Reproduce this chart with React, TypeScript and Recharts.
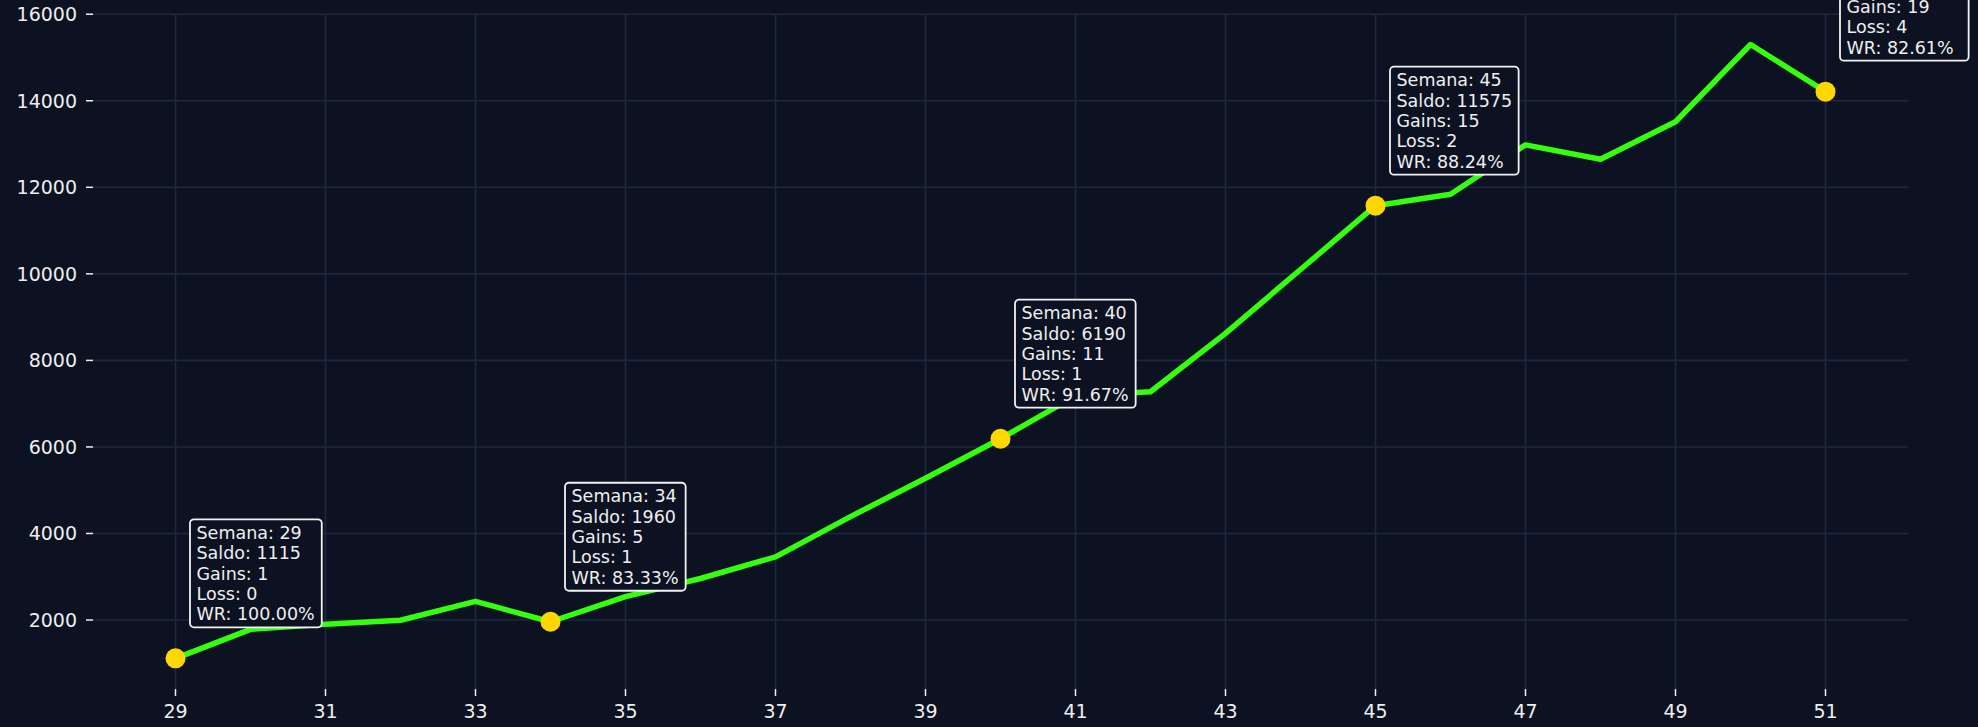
import React from "react";
import { LineChart, Line, XAxis, YAxis, ReferenceLine } from "recharts";

const weeks = [29, 30, 31, 32, 33, 34, 35, 36, 37, 38, 39, 40, 41, 42, 43, 44, 45, 46, 47, 48, 49, 50, 51];
const saldo = [
  1115, 1785, 1905, 1995, 2430, 1960, 2540, 2960, 3460, 4390, 5275, 6190,
  7180, 7275, 8625, 10100, 11575, 11840, 12980, 12650, 13515, 15300, 14210,
];

// annotated weeks with their trade counts
const markedWeeks = [29, 34, 40, 45, 51];
const gains = [1, 5, 11, 15, 19];
const losses = [0, 1, 1, 2, 4];

const xTicks = [29, 31, 33, 35, 37, 39, 41, 43, 45, 47, 49, 51];
const yTicks = [2000, 4000, 6000, 8000, 10000, 12000, 14000, 16000];

const BG = "#0c1222";
const GRID = "#1e283c";
const TEXT = "#eeeeee";
const FONT = "'DejaVu Sans', sans-serif";

const data = weeks.map((w, i) => ({ semana: w, saldo: saldo[i] }));

// rough DejaVu Sans advance widths (em) to size the annotation boxes
const CHAR_W: Record<string, number> = {
  S: 0.635, e: 0.615, m: 0.974, a: 0.613, n: 0.634, ":": 0.337, " ": 0.318,
  l: 0.278, d: 0.635, o: 0.612, G: 0.775, i: 0.278, s: 0.521, L: 0.557,
  W: 0.989, R: 0.695, ".": 0.318, "%": 0.95,
};
const textWidth = (t: string, fs: number) =>
  t.split("").reduce((acc, c) => acc + (CHAR_W[c] ?? 0.636), 0) * fs;

const ANN_FS = 17.5;
const ANN_LH = 20.4;

function AnnotatedDot(props: any) {
  const { cx, cy, payload, index } = props;
  const k = markedWeeks.indexOf(payload.semana);
  if (k < 0 || cx == null || cy == null) return <g key={`d-${index}`} />;
  const g = gains[k];
  const l = losses[k];
  const wr = ((g / (g + l)) * 100).toFixed(2);
  const lines = [
    `Semana: ${payload.semana}`,
    `Saldo: ${payload.saldo}`,
    `Gains: ${g}`,
    `Loss: ${l}`,
    `WR: ${wr}%`,
  ];
  const w = Math.max(...lines.map((t) => textWidth(t, ANN_FS))) + 13;
  const h = 108;
  const bx = cx + 14.5;
  const by = cy - 31 - h;
  return (
    <g key={`d-${index}`}>
      <circle cx={cx} cy={cy} r={10} fill="#ffd700" />
      <rect x={bx} y={by} width={w} height={h} rx={4} ry={4} fill={BG} stroke="#f2f2f2" strokeWidth={1.8} />
      {lines.map((t, j) => (
        <text
          key={j}
          x={bx + 6.5}
          y={by + 19.5 + j * ANN_LH}
          fill={TEXT}
          fontSize={ANN_FS}
          fontFamily={FONT}
        >
          {t}
        </text>
      ))}
    </g>
  );
}

export default function App() {
  return (
    <div style={{ width: 1978, height: 727, background: BG }}>
      <style>{`html,body{margin:0;padding:0;background:${BG};}`}</style>
      <LineChart
        width={1978}
        height={727}
        data={data}
        margin={{ top: 14, right: 70, left: 0, bottom: 0 }}
      >
        <XAxis
          type="number"
          dataKey="semana"
          domain={[27.9, 52.1]}
          ticks={xTicks}
          interval={0}
          height={38}
          axisLine={false}
          tickSize={7}
          tickMargin={9}
          tickLine={{ stroke: TEXT, strokeWidth: 1.5 }}
          tick={{ fill: TEXT, fontSize: 19, fontFamily: FONT }}
        />
        <YAxis
          type="number"
          domain={[406, 16005]}
          ticks={yTicks}
          interval={0}
          width={93}
          axisLine={false}
          tickSize={7}
          tickMargin={9}
          tickLine={{ stroke: TEXT, strokeWidth: 1.5 }}
          tick={{ fill: TEXT, fontSize: 19, fontFamily: FONT }}
        />
        {/* grid only at the tick values, not along the plot edges */}
        {yTicks.map((t) => (
          <ReferenceLine key={`gy-${t}`} y={t} stroke={GRID} strokeWidth={1.6} />
        ))}
        {xTicks.map((t) => (
          <ReferenceLine key={`gx-${t}`} x={t} stroke={GRID} strokeWidth={1.6} />
        ))}
        <Line
          type="linear"
          dataKey="saldo"
          stroke="#33ff0f"
          strokeWidth={5.5}
          strokeLinejoin="round"
          dot={AnnotatedDot}
          activeDot={false}
          isAnimationActive={false}
        />
      </LineChart>
    </div>
  );
}
